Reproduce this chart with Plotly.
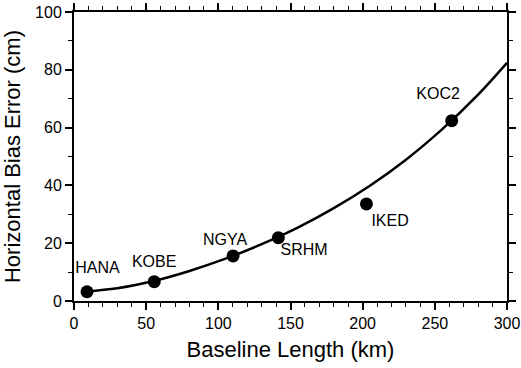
import plotly.graph_objects as go

# Station data (baseline length km, horizontal bias error cm)
stations = ["HANA", "KOBE", "NGYA", "SRHM", "IKED", "KOC2"]
baseline_km = [9.0, 55.6, 110.2, 141.6, 202.6, 261.7]
bias_cm = [3.2, 6.7, 15.6, 21.9, 33.6, 62.4]

# Label positions
label_x = [16.3, 55.5, 104.6, 159.4, 219.0, 252.3]
label_y = [11.1, 13.3, 20.8, 17.3, 27.5, 71.3]

# Fitted curve
curve_x = [8, 30, 55, 80, 105, 130, 155, 180, 205, 230, 255, 280, 300]
curve_y = [3.3, 4.4, 6.9, 10.4, 14.65, 19.65, 25.4, 32.15, 39.9, 48.9, 59.4, 71.4, 82.4]

x_ticks = [0, 50, 100, 150, 200, 250, 300]
y_ticks = [0, 20, 40, 60, 80, 100]

FONT = "Liberation Sans, Arial, Helvetica, sans-serif"

fig = go.Figure()
fig.add_trace(go.Scatter(x=curve_x, y=curve_y, mode="lines",
                         line=dict(color="black", width=2.5, shape="spline", smoothing=1.0),
                         hoverinfo="skip", showlegend=False))
fig.add_trace(go.Scatter(x=baseline_km, y=bias_cm, mode="markers",
                         marker=dict(color="black", size=13),
                         showlegend=False))
fig.add_trace(go.Scatter(x=label_x, y=label_y, mode="text", text=stations,
                         textfont=dict(family=FONT, size=16, color="black"),
                         textposition="middle center", showlegend=False))

axis_common = dict(
    showline=True, linecolor="black", linewidth=2, mirror="ticks",
    ticks="outside", ticklen=7, tickwidth=1.5, tickcolor="black",
    showgrid=False, zeroline=False, automargin=False,
    tickfont=dict(family=FONT, size=16, color="black"),
)

fig.update_xaxes(range=[0, 300], tickvals=x_ticks,
                 title=dict(text="Baseline Length (km)", font=dict(family=FONT, size=22, color="black"), standoff=10),
                 minor=dict(dtick=10, ticks="outside", ticklen=4, tickwidth=1, tickcolor="black"),
                 **axis_common)
fig.update_yaxes(range=[0, 100], tickvals=y_ticks,
                 title=dict(text="Horizontal Bias Error (cm)", font=dict(family=FONT, size=22, color="black"), standoff=8),
                 minor=dict(dtick=10, ticks="outside", ticklen=4, tickwidth=1, tickcolor="black"),
                 **axis_common)

fig.update_layout(width=521, height=368,
                  margin=dict(l=74, r=14, t=12, b=67),
                  plot_bgcolor="white", paper_bgcolor="white",
                  font=dict(family=FONT, color="black"))

fig.write_html("out.html", config={"displayModeBar": False},
               post_script="document.body.style.margin='0';")
